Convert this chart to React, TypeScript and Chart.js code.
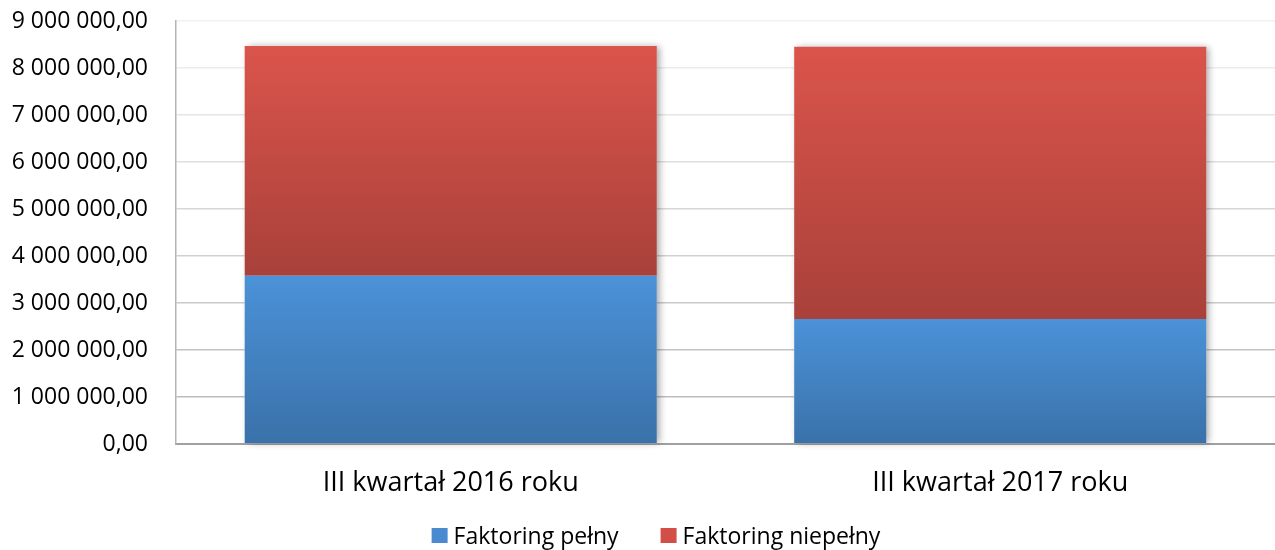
import { useEffect, useRef } from 'react';
import { Chart, registerables } from 'chart.js';

Chart.register(...registerables);

const categories = ['III kwartał 2016 roku', 'III kwartał 2017 roku'];
const seriesNames = ['Faktoring pełny', 'Faktoring niepełny'];
const pelny = [3580000, 2660000];
const niepelny = [4890000, 5790000];
const yMin = 0;
const yMax = 9000000;
const yStep = 1000000;

const FONT = '"Open Sans", "DejaVu Sans", sans-serif';

const fmt = (v: number) =>
  String(Math.round(v)).replace(/\B(?=(\d{3})+(?!\d))/g, ' ') + ',00';

const gradients = [
  { top: '#4b92d8', bottom: '#3a71a9', legend: '#4a8ad0' },
  { top: '#da544b', bottom: '#a8413a', legend: '#d14f47' },
];

function makeBg(dsIndex: number) {
  return (ctx: any) => {
    const chart = ctx.chart;
    const g = gradients[dsIndex];
    if (!chart.chartArea || ctx.type !== 'data') return g.top;
    const y = chart.scales.y;
    const i = ctx.dataIndex;
    const base = dsIndex === 0 ? 0 : pelny[i];
    const top = dsIndex === 0 ? pelny[i] : pelny[i] + niepelny[i];
    const y0 = y.getPixelForValue(top);
    const y1 = y.getPixelForValue(base);
    const grad = chart.ctx.createLinearGradient(0, y0, 0, y1);
    grad.addColorStop(0, g.top);
    grad.addColorStop(1, g.bottom);
    return grad;
  };
}

const shadowPlugin = {
  id: 'barShadow',
  beforeDatasetsDraw(chart: any) {
    const ctx = chart.ctx;
    const metaBase = chart.getDatasetMeta(0);
    const metaTop = chart.getDatasetMeta(chart.data.datasets.length - 1);
    ctx.save();
    ctx.shadowColor = 'rgba(0,0,0,0.35)';
    ctx.shadowBlur = 7;
    ctx.shadowOffsetX = 3;
    ctx.shadowOffsetY = 0;
    ctx.fillStyle = '#ffffff';
    metaBase.data.forEach((bar: any, i: number) => {
      const topBar = metaTop.data[i];
      const w = bar.width;
      ctx.fillRect(bar.x - w / 2, topBar.y, w, bar.base - topBar.y);
    });
    ctx.restore();
  },
};

const legendPlugin = {
  id: 'customLegend',
  afterDraw(chart: any) {
    const ctx = chart.ctx;
    ctx.save();
    ctx.font = `23px ${FONT}`;
    ctx.textBaseline = 'middle';
    ctx.textAlign = 'left';
    const box = 16;
    const gap = 6;
    const itemGap = 42;
    const items = chart.data.datasets.map((ds: any, i: number) => ({
      label: ds.label as string,
      color: gradients[i].legend,
      w: ctx.measureText(ds.label).width,
    }));
    const total =
      items.reduce((s: number, it: any) => s + box + gap + it.w, 0) +
      itemGap * (items.length - 1);
    let x = 656 - total / 2;
    const cy = 536;
    items.forEach((it: any) => {
      ctx.fillStyle = it.color;
      ctx.fillRect(x, cy - box / 2, box, box - 1);
      x += box + gap;
      ctx.fillStyle = '#000000';
      ctx.fillText(it.label, x, cy + 1);
      x += it.w + itemGap;
    });
    ctx.restore();
  },
};

export default function App() {
  const ref = useRef<HTMLCanvasElement | null>(null);

  useEffect(() => {
    document.body.style.margin = '0';
    if (!ref.current) return;
    const chart = new Chart(ref.current, {
      type: 'bar',
      data: {
        labels: categories,
        datasets: [
          {
            label: seriesNames[0],
            data: pelny,
            backgroundColor: makeBg(0),
            borderWidth: 0,
          },
          {
            label: seriesNames[1],
            data: niepelny,
            backgroundColor: makeBg(1),
            borderWidth: 0,
          },
        ],
      },
      options: {
        responsive: false,
        animation: false,
        layout: {
          padding: { left: 0, right: 0, top: 21, bottom: 0 },
        },
        datasets: {
          bar: { barPercentage: 0.75, categoryPercentage: 1 },
        },
        plugins: {
          legend: { display: false },
          tooltip: { enabled: false },
        },
        scales: {
          x: {
            stacked: true,
            grid: { display: false, drawTicks: false },
            border: { display: true, color: '#a0a0a0', width: 2 },
            ticks: {
              color: '#000000',
              font: { family: FONT, size: 27 },
              padding: 23,
            },
            afterFit: (scale: any) => {
              scale.height = 106;
            },
          },
          y: {
            stacked: true,
            min: yMin,
            max: yMax,
            grid: {
              drawTicks: true,
              tickLength: 28,
              tickColor: 'rgba(0,0,0,0)',
              lineWidth: 1.5,
              color: (ctx: any) => {
                const v = ctx.tick ? ctx.tick.value : 0;
                const t = v / yMax;
                const c = Math.round(182 + (242 - 182) * t);
                return `rgb(${c},${c},${c})`;
              },
            },
            border: { display: true, color: '#b4b4b4', width: 1.5 },
            ticks: {
              stepSize: yStep,
              color: '#000000',
              font: { family: FONT, size: 23 },
              padding: 0,
              callback: (v: any) => fmt(Number(v)),
            },
            afterFit: (scale: any) => {
              scale.width = 176;
            },
          },
        },
      },
      plugins: [shadowPlugin, legendPlugin],
    });
    return () => chart.destroy();
  }, []);

  return (
    <canvas
      ref={ref}
      width={1275}
      height={550}
      style={{ display: 'block', width: 1275, height: 550 }}
    />
  );
}
